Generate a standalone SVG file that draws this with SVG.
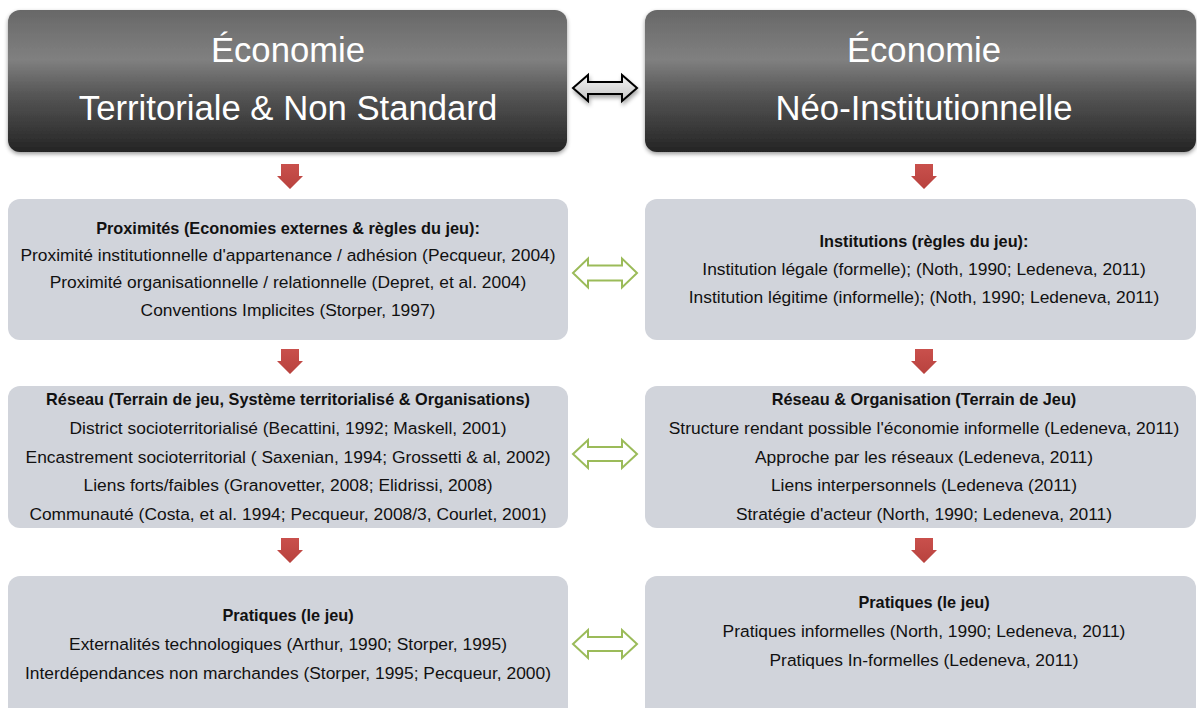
<svg xmlns="http://www.w3.org/2000/svg" width="1197" height="708" viewBox="0 0 1197 708">
<style>
.head{fill:url(#dark);filter:url(#sh)}
.box{fill:#d1d4db}
.ht{font-family:"Liberation Sans",Arial,sans-serif;font-size:34.7px;fill:#ffffff;text-anchor:middle}
.t{font-family:"Liberation Sans",Arial,sans-serif;font-size:17.4px;fill:#111111;text-anchor:middle}
.b{font-weight:bold;font-size:16.3px}
.red{fill:url(#redg)}
.green{fill:#ffffff;stroke:#9bbb59;stroke-width:2}
.blk{fill:url(#lg);stroke:#000000;stroke-width:2;filter:url(#sh2)}
</style>
<defs>
<linearGradient id="dark" x1="0" y1="0" x2="0" y2="1">
<stop offset="0" stop-color="#686868"/>
<stop offset="0.35" stop-color="#808080"/>
<stop offset="0.6" stop-color="#555555"/>
<stop offset="1" stop-color="#242424"/>
</linearGradient>
<linearGradient id="redg" x1="0" y1="0" x2="0" y2="1">
<stop offset="0" stop-color="#c9504c"/>
<stop offset="1" stop-color="#b8423e"/>
</linearGradient>
<linearGradient id="lg" x1="0" y1="0" x2="0" y2="1">
<stop offset="0" stop-color="#f4f4f4"/>
<stop offset="1" stop-color="#c4c4c4"/>
</linearGradient>
<filter id="sh" x="-5%" y="-10%" width="110%" height="125%">
<feGaussianBlur in="SourceAlpha" stdDeviation="2"/>
<feOffset dy="2" result="o"/>
<feComponentTransfer><feFuncA type="linear" slope="0.4"/></feComponentTransfer>
<feMerge><feMergeNode/><feMergeNode in="SourceGraphic"/></feMerge>
</filter>
<filter id="sh2" x="-20%" y="-30%" width="140%" height="180%">
<feGaussianBlur in="SourceAlpha" stdDeviation="2"/>
<feOffset dx="1" dy="3" result="o"/>
<feComponentTransfer><feFuncA type="linear" slope="0.35"/></feComponentTransfer>
<feMerge><feMergeNode/><feMergeNode in="SourceGraphic"/></feMerge>
</filter>
</defs>

<g id="n-ets">
<rect class="head" x="8" y="10" width="559" height="142" rx="12"/>
<text class="ht" x="288" y="62">Économie</text>
<text class="ht" x="288" y="120">Territoriale &amp; Non Standard</text>
</g>
<g id="n-eni">
<rect class="head" x="645" y="10" width="551" height="142" rx="12"/>
<text class="ht" x="924" y="62">Économie</text>
<text class="ht" x="924" y="120">Néo-Institutionnelle</text>
</g>

<g id="n-prox">
<rect class="box" x="8" y="199" width="560" height="141" rx="12"/>
<text class="t b" x="288" y="234">Proximités (Economies externes &amp; règles du jeu):</text>
<text class="t" x="288" y="261">Proximité institutionnelle d'appartenance / adhésion (Pecqueur, 2004)</text>
<text class="t" x="288" y="288">Proximité organisationnelle / relationnelle (Depret, et al. 2004)</text>
<text class="t" x="288" y="316">Conventions Implicites (Storper, 1997)</text>
</g>
<g id="n-inst">
<rect class="box" x="645" y="199" width="551" height="141" rx="12"/>
<text class="t b" x="924" y="247">Institutions (règles du jeu):</text>
<text class="t" x="924" y="275">Institution légale (formelle); (Noth, 1990; Ledeneva, 2011)</text>
<text class="t" x="924" y="303">Institution légitime (informelle); (Noth, 1990; Ledeneva, 2011)</text>
</g>

<g id="n-res1">
<rect class="box" x="8" y="386" width="560" height="142" rx="12"/>
<text class="t b" x="288" y="405">Réseau (Terrain de jeu, Système territorialisé &amp; Organisations)</text>
<text class="t" x="288" y="434">District socioterritorialisé (Becattini, 1992; Maskell, 2001)</text>
<text class="t" x="288" y="463">Encastrement socioterritorial ( Saxenian, 1994; Grossetti &amp; al, 2002)</text>
<text class="t" x="288" y="491">Liens forts/faibles (Granovetter, 2008; Elidrissi, 2008)</text>
<text class="t" x="288" y="520">Communauté (Costa, et al. 1994; Pecqueur, 2008/3, Courlet, 2001)</text>
</g>
<g id="n-res2">
<rect class="box" x="645" y="386" width="551" height="142" rx="12"/>
<text class="t b" x="924" y="405">Réseau &amp; Organisation (Terrain de Jeu)</text>
<text class="t" x="924" y="434">Structure rendant possible l'économie informelle (Ledeneva, 2011)</text>
<text class="t" x="924" y="463">Approche par les réseaux (Ledeneva, 2011)</text>
<text class="t" x="924" y="491">Liens interpersonnels (Ledeneva (2011)</text>
<text class="t" x="924" y="520">Stratégie d'acteur (North, 1990; Ledeneva, 2011)</text>
</g>

<g id="n-prat1">
<rect class="box" x="8" y="576" width="560" height="145" rx="12"/>
<text class="t b" x="288" y="621">Pratiques (le jeu)</text>
<text class="t" x="288" y="650">Externalités technologiques (Arthur, 1990; Storper, 1995)</text>
<text class="t" x="288" y="679">Interdépendances non marchandes (Storper, 1995; Pecqueur, 2000)</text>
</g>
<g id="n-prat2">
<rect class="box" x="645" y="576" width="551" height="145" rx="12"/>
<text class="t b" x="924" y="608">Pratiques (le jeu)</text>
<text class="t" x="924" y="637">Pratiques informelles (North, 1990; Ledeneva, 2011)</text>
<text class="t" x="924" y="666">Pratiques In-formelles (Ledeneva, 2011)</text>
</g>

<g id="connectors">
<path class="blk" d="M573,88 L588,75 L588,82 L622,82 L622,75 L637,88 L622,101 L622,94 L588,94 L588,101 Z"/>
<path class="red" d="M281,164 L299,164 L299,176 L303,176 L290,189 L277,176 L281,176 Z"/>
<path class="red" d="M915,164 L933,164 L933,176 L937,176 L924,189 L911,176 L915,176 Z"/>
<path class="red" d="M281,349 L299,349 L299,361 L303,361 L290,374 L277,361 L281,361 Z"/>
<path class="red" d="M915,349 L933,349 L933,361 L937,361 L924,374 L911,361 L915,361 Z"/>
<path class="red" d="M281,538 L299,538 L299,550 L303,550 L290,563 L277,550 L281,550 Z"/>
<path class="red" d="M915,538 L933,538 L933,550 L937,550 L924,563 L911,550 L915,550 Z"/>
<path class="green" d="M573,273 L588,258.5 L588,265.5 L622,265.5 L622,258.5 L637,273 L622,287.5 L622,280.5 L588,280.5 L588,287.5 Z"/>
<path class="green" d="M573,454 L588,440 L588,447 L622,447 L622,440 L637,454 L622,468 L622,461 L588,461 L588,468 Z"/>
<path class="green" d="M573,644 L588,630 L588,637 L622,637 L622,630 L637,644 L622,658 L622,651 L588,651 L588,658 Z"/>
</g>
</svg>
